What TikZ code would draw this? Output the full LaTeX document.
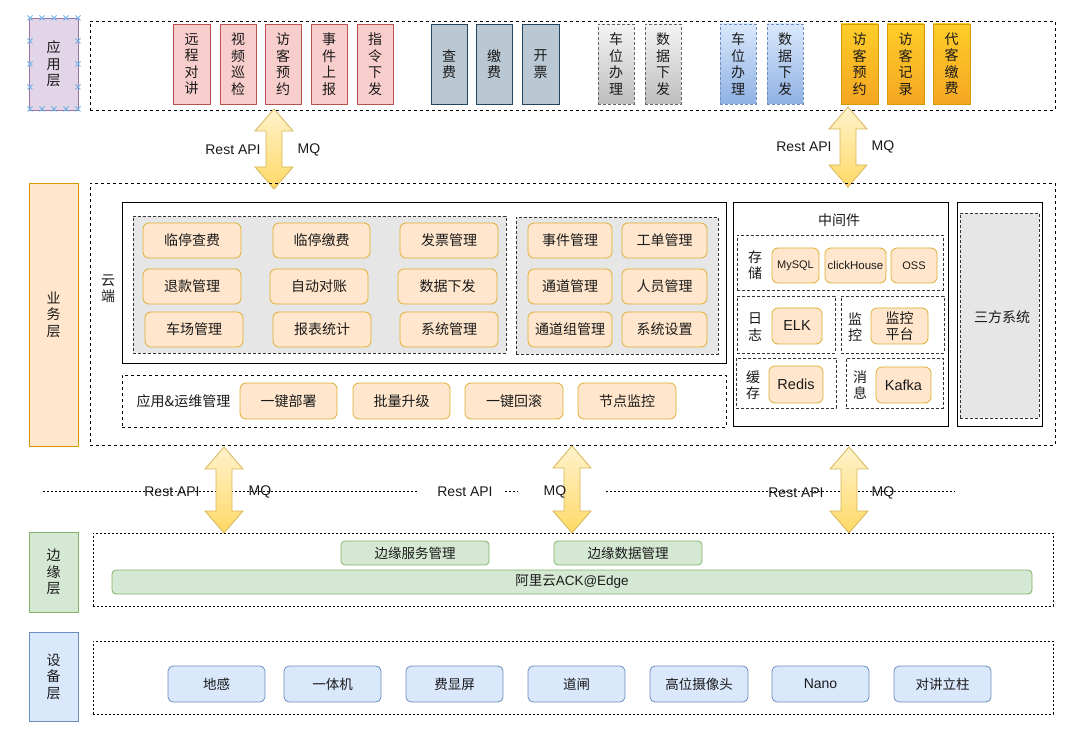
\documentclass[tikz,border=0pt]{standalone}
\usepackage{fontspec}
\setmainfont{Noto Sans CJK SC}
\newfontfamily\lat{Liberation Sans}
\definecolor{pfill}{HTML}{E1D5E7}\definecolor{pdraw}{HTML}{9673A6}
\definecolor{ofill}{HTML}{FFE6CC}\definecolor{odraw}{HTML}{D79B00}
\definecolor{gfill}{HTML}{D5E8D4}\definecolor{gdraw}{HTML}{82B366}
\definecolor{bfill}{HTML}{DAE8FC}\definecolor{bdraw}{HTML}{6C8EBF}
\definecolor{bfill2}{HTML}{8FB1E3}
\definecolor{rfill}{HTML}{F8CECC}\definecolor{rdraw}{HTML}{B85450}
\definecolor{sfill}{HTML}{BAC8D3}\definecolor{sdraw}{HTML}{23445D}
\definecolor{gr1}{HTML}{F5F5F5}\definecolor{gr2}{HTML}{BDBDBD}\definecolor{grd}{HTML}{666666}
\definecolor{yo1}{HTML}{FFCD28}\definecolor{yo2}{HTML}{F5A623}
\definecolor{ar1}{HTML}{FFF2CC}\definecolor{ar2}{HTML}{FFD966}\definecolor{ard}{HTML}{D6B656}
\definecolor{inner}{HTML}{E6E6E6}
\definecolor{txt}{HTML}{1A1A1A}
\definecolor{handle}{HTML}{6DB3EA}
\newcommand\BX[7]{\node[#1, minimum width={#5-#3}, minimum height={#6-#4}] (#2) at ({(#3+#5)/2},{(#4+#6)/2}) {#7};}
\newcommand\DBL[4]{%
  \coordinate (#1) at (#2,{(#3+#4)/2});
  \path[bigarrow] ({#2-8},{#3+22}) -- ({#2-19},{#3+22}) -- (#2,#3) -- ({#2+19},{#3+22}) -- ({#2+8},{#3+22})
    -- ({#2+8},{#4-22}) -- ({#2+19},{#4-22}) -- (#2,#4) -- ({#2-19},{#4-22}) -- ({#2-8},{#4-22}) -- cycle;}
\begin{document}
\begin{tikzpicture}[x=1pt,y=-1pt,
  base/.style={inner sep=0pt, outer sep=0pt, line width=0.8pt, align=center, text=txt,
    font=\fontsize{14}{16.5}\selectfont},
  lyr/.style={base, draw=#1draw, fill=#1fill},
  dbox/.style={base, draw=black, dash pattern=on 3pt off 3pt},
  fbox/.style={base, draw=black, dash pattern=on 2pt off 2pt},
  ibox/.style={base, draw=black!80, dash pattern=on 3pt off 2pt},
  sbox/.style={base, draw=black, line width=1pt},
  appr/.style={base, draw=rdraw, fill=rfill},
  apps/.style={base, draw=sdraw, fill=sfill},
  appg/.style={base, draw=grd, dash pattern=on 3pt off 2pt, top color=gr1, bottom color=gr2},
  appb/.style={base, draw=bdraw, dash pattern=on 3pt off 2pt, top color=bfill, bottom color=bfill2},
  appo/.style={base, draw=odraw, top color=yo1, bottom color=yo2},
  obtn/.style={base, draw=odraw!80, fill=ofill, rounded corners=6pt},
  gbtn/.style={base, draw=gdraw, fill=gfill, rounded corners=4pt, font=\fontsize{13.5}{16}\selectfont},
  dbtn/.style={base, draw=bdraw, fill=bfill, rounded corners=5pt, font=\fontsize{13.5}{16}\selectfont},
  bigarrow/.style={draw=ard, line width=0.8pt, top color=ar1, bottom color=ar2},
  lbl/.style={inner sep=0pt, text=txt, font=\lat\fontsize{14}{16}\selectfont},
  dotline/.style={draw=black, line width=0.7pt, dash pattern=on 2pt off 2pt},
  hnd/.style={draw=handle, line width=0.8pt}
]
\useasboundingbox (0,0) rectangle (1080,735);
\fill[white] (0,0) rectangle (1080,735);

% ---------- application layer ----------
\BX{lyr=p}{lapp}{29}{18}{78}{110}{应\\用\\层}
\foreach \hx/\hy in {30/18,42/18,54/18,66/18,78/18,30/109,42/109,54/109,66/109,78/109,30/41,30/64,30/87,78/41,78/64,78/87}
  {\draw[hnd] (\hx-2.5,\hy-2.5) -- (\hx+2.5,\hy+2.5) (\hx-2.5,\hy+2.5) -- (\hx+2.5,\hy-2.5);}
\BX{dbox}{appbox}{90}{21}{1055}{110}{}
\BX{appr}{a1}{173}{24}{210}{104}{远\\程\\对\\讲}
\BX{appr}{a2}{220}{24}{256}{104}{视\\频\\巡\\检}
\BX{appr}{a3}{265}{24}{301}{104}{访\\客\\预\\约}
\BX{appr}{a4}{311}{24}{347}{104}{事\\件\\上\\报}
\BX{appr}{a5}{357}{24}{393}{104}{指\\令\\下\\发}
\BX{apps}{a6}{431}{24}{467}{104}{查\\费}
\BX{apps}{a7}{476}{24}{512}{104}{缴\\费}
\BX{apps}{a8}{522}{24}{559}{104}{开\\票}
\BX{appg}{a9}{598}{24}{634}{104}{车\\位\\办\\理}
\BX{appg}{a10}{645}{24}{681}{104}{数\\据\\下\\发}
\BX{appb}{a11}{720}{24}{756}{104}{车\\位\\办\\理}
\BX{appb}{a12}{767}{24}{803}{104}{数\\据\\下\\发}
\BX{appo}{a13}{841}{24}{878}{104}{访\\客\\预\\约}
\BX{appo}{a14}{887}{24}{924}{104}{访\\客\\记\\录}
\BX{appo}{a15}{933}{24}{970}{104}{代\\客\\缴\\费}

% ---------- arrows app <-> business ----------
\DBL{t1}{274}{109}{189}
\DBL{t2}{848}{107}{187}
\node[lbl] (t1r) at (233,150) {Rest API};
\node[lbl] (t1m) at (309,150) {MQ};
\node[lbl] (t2r) at (804,147) {Rest API};
\node[lbl] (t2m) at (883,147) {MQ};

% ---------- business layer ----------
\BX{lyr=o}{lbiz}{29}{183}{78}{446}{业\\务\\层}
\BX{dbox}{bizbox}{90}{183}{1055}{445}{}
\BX{sbox}{cloud}{122}{203}{726}{364}{}
\node[base] (cloudt) at (108,289) {云\\端};
\BX{ibox, fill=inner}{g1}{133}{216}{506}{353}{}
\BX{ibox, fill=inner}{g2}{516}{217}{718}{354}{}
\BX{obtn}{b1}{143}{223}{241}{258}{临停查费}
\BX{obtn}{b2}{273}{223}{370}{258}{临停缴费}
\BX{obtn}{b3}{400}{223}{498}{258}{发票管理}
\BX{obtn}{b4}{143}{269}{241}{304}{退款管理}
\BX{obtn}{b5}{270}{269}{368}{304}{自动对账}
\BX{obtn}{b6}{398}{269}{497}{304}{数据下发}
\BX{obtn}{b7}{145}{312}{243}{347}{车场管理}
\BX{obtn}{b8}{273}{312}{371}{347}{报表统计}
\BX{obtn}{b9}{400}{312}{498}{347}{系统管理}
\BX{obtn}{c1}{528}{223}{612}{258}{事件管理}
\BX{obtn}{c2}{622}{223}{707}{258}{工单管理}
\BX{obtn}{c3}{528}{269}{612}{304}{通道管理}
\BX{obtn}{c4}{622}{269}{707}{304}{人员管理}
\BX{obtn}{c5}{528}{312}{612}{347}{通道组管理}
\BX{obtn}{c6}{622}{312}{707}{347}{系统设置}
\BX{dbox}{ops}{122}{375}{726}{427}{}
\node[base] (opst) at (183.5,401) {应用\&运维管理};
\BX{obtn}{o1}{240}{383}{337}{419}{一键部署}
\BX{obtn}{o2}{353}{383}{450}{419}{批量升级}
\BX{obtn}{o3}{465}{383}{563}{419}{一键回滚}
\BX{obtn}{o4}{578}{383}{676}{419}{节点监控}

\BX{sbox}{mid}{733}{203}{948}{427}{}
\node[base] (midt) at (839,220) {中间件};
\BX{ibox}{m1}{737}{235}{943}{290}{}
\node[base] at (755,265) {存\\储};
\BX{obtn, font=\lat\fontsize{11}{13}\selectfont}{my}{772}{248}{819}{283}{MySQL}
\BX{obtn, font=\lat\fontsize{11.5}{13}\selectfont}{ck}{825}{248}{886}{283}{clickHouse}
\BX{obtn, font=\lat\fontsize{11}{13}\selectfont}{oss}{891}{248}{937}{283}{OSS}
\BX{ibox}{m2}{737}{296}{835}{353}{}
\node[base] at (755,327) {日\\志};
\BX{obtn, font=\lat\fontsize{14.5}{16}\selectfont}{elk}{772}{308}{822}{344}{ELK}
\BX{ibox}{m3}{841}{296}{944}{353}{}
\node[base] at (855,327) {监\\控};
\BX{obtn}{mon}{871}{308}{928}{344}{监控\\平台}
\BX{ibox}{m4}{736}{358}{836}{408}{}
\node[base] at (753,385) {缓\\存};
\BX{obtn, font=\lat\fontsize{14.5}{16}\selectfont}{redis}{769}{366}{823}{403}{Redis}
\BX{ibox}{m5}{846}{358}{943}{408}{}
\node[base] at (860,385) {消\\息};
\BX{obtn, font=\lat\fontsize{14.5}{16}\selectfont}{kafka}{876}{367}{931}{403}{Kafka}
\BX{sbox}{third}{957}{203}{1042}{427}{}
\BX{ibox, fill=inner}{thirdi}{960}{213}{1039}{418}{}
\node[base] (thirdt) at (1002,317) {三方系统};

% ---------- middle connection band ----------
\draw[dotline] (43,491) -- (417,491);
\draw[dotline] (505,491) -- (518,491);
\draw[dotline] (606,491) -- (955,491);
\DBL{m1a}{224}{447}{533}
\DBL{m2a}{572}{446}{533}
\DBL{m3a}{849}{447}{533}
\node[lbl] (r1) at (172,492) {Rest API};
\node[lbl] (q1) at (260,492) {MQ};
\node[lbl] (r2) at (465,492) {Rest API};
\node[lbl] (q2) at (555,492) {MQ};
\node[lbl] (r3) at (796,493) {Rest API};
\node[lbl] (q3) at (883,493) {MQ};

% ---------- edge layer ----------
\BX{lyr=g}{ledge}{29}{532}{78}{612}{边\\缘\\层}
\BX{fbox}{edgebox}{93}{533}{1053}{606}{}
\BX{gbtn}{e1}{341}{541}{489}{565}{边缘服务管理}
\BX{gbtn}{e2}{554}{541}{702}{565}{边缘数据管理}
\BX{gbtn}{e3}{112}{570}{1032}{594}{阿里云{\lat ACK@Edge}}

% ---------- device layer ----------
\BX{lyr=b}{ldev}{29}{632}{78}{721}{设\\备\\层}
\BX{fbox}{devbox}{93}{641}{1053}{714}{}
\BX{dbtn}{d1}{168}{666}{265}{702}{地感}
\BX{dbtn}{d2}{284}{666}{381}{702}{一体机}
\BX{dbtn}{d3}{406}{666}{503}{702}{费显屏}
\BX{dbtn}{d4}{528}{666}{625}{702}{道闸}
\BX{dbtn}{d5}{650}{666}{748}{702}{高位摄像头}
\BX{dbtn, font=\lat\fontsize{14}{16}\selectfont}{d6}{772}{666}{869}{702}{Nano}
\BX{dbtn}{d7}{894}{666}{991}{702}{对讲立柱}
\end{tikzpicture}
\end{document}
